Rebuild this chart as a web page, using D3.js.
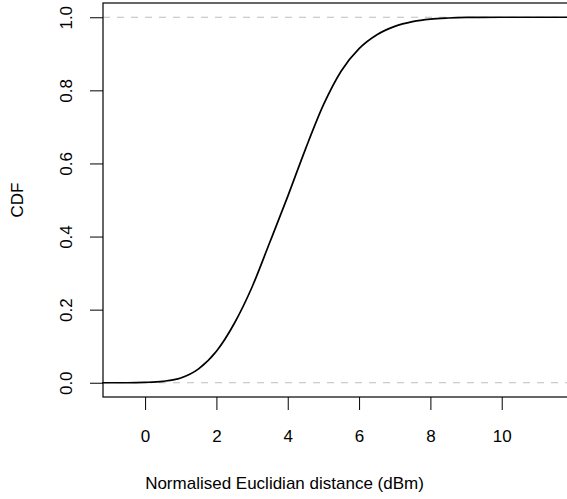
<!DOCTYPE html>
<meta charset="utf-8">
<style>
body { margin: 0; background: #fff; }
text { font-family: "Liberation Sans", Arial, Helvetica, sans-serif; font-size: 17px; fill: #000; }
.ref { stroke: #bdbdbd; stroke-dasharray: 7,7; fill: none; }
.box { fill: none; stroke: #000; stroke-width: 1.2px; }
.tick line { stroke: #000; }
</style>
<svg width="567" height="499"></svg>
<script src="https://cdn.jsdelivr.net/npm/d3@7/dist/d3.min.js"></script>
<script>

var dist = [-1.2, -0.5, 0, 0.5, 1.0, 1.5, 2.0, 2.5, 3.0, 3.5, 4.0, 4.5, 5.0, 5.5, 6.0, 6.5, 7.0, 7.5, 8.0, 8.5, 9.0, 10.0, 13.0];
var cdf  = [0, 0, 0.001, 0.004, 0.013, 0.038, 0.086, 0.162, 0.262, 0.385, 0.51, 0.64, 0.76, 0.853, 0.914, 0.952, 0.975, 0.988, 0.995, 0.998, 0.9995, 1, 1];

var xTicks = [0, 2, 4, 6, 8, 10];
var yTicks = [0, 0.2, 0.4, 0.6, 0.8, 1.0];
var refLines = [0, 1];

var svg = d3.select("svg");

var x = d3.scaleLinear().domain([-1.18, 13.26]).range([103, 618]);
var y = d3.scaleLinear().domain([-0.039, 1.039]).range([397, 3]);

// dashed reference lines at 0 and 1
svg.selectAll(".ref")
    .data(refLines)
  .enter().append("line")
    .attr("class", "ref")
    .attr("x1", x.range()[0])
    .attr("x2", 567)
    .attr("y1", function(d) { return y(d); })
    .attr("y2", function(d) { return y(d); });

var pts = dist.map(function(d, i) { return [d, cdf[i]]; });

var line = d3.line()
    .x(function(d) { return x(d[0]); })
    .y(function(d) { return y(d[1]); })
    .curve(d3.curveMonotoneX);

svg.append("path")
    .datum(pts)
    .attr("fill", "none")
    .attr("stroke", "#000")
    .attr("stroke-width", 1.7)
    .attr("d", line);

svg.append("rect")
    .attr("class", "box")
    .attr("x", x.range()[0])
    .attr("y", y.range()[1])
    .attr("width", x.range()[1] - x.range()[0])
    .attr("height", y.range()[0] - y.range()[1]);

var xAxis = svg.append("g")
    .attr("transform", "translate(0," + y.range()[0] + ")")
    .call(d3.axisBottom(x).tickValues(xTicks).tickSize(13).tickPadding(20).tickFormat(d3.format("d")));
xAxis.select(".domain").remove();
xAxis.selectAll("text").style("font-size", "17px").style("font-family", null);

var yAxis = svg.append("g")
    .attr("transform", "translate(" + x.range()[0] + ",0)")
    .call(d3.axisLeft(y).tickValues(yTicks).tickSize(13).tickFormat(d3.format(".1f")));
yAxis.select(".domain").remove();
yAxis.selectAll("text")
    .attr("x", null)
    .attr("text-anchor", "middle")
    .attr("transform", "translate(-37,0) rotate(-90)")
    .attr("dy", "0.35em")
    .style("font-size", "17px").style("font-family", null);

svg.append("text")
    .attr("x", 284.5)
    .attr("y", 489)
    .attr("text-anchor", "middle")
    .text("Normalised Euclidian distance (dBm)");

svg.append("text")
    .attr("transform", "translate(23,200) rotate(-90)")
    .attr("text-anchor", "middle")
    .text("CDF");

</script>
